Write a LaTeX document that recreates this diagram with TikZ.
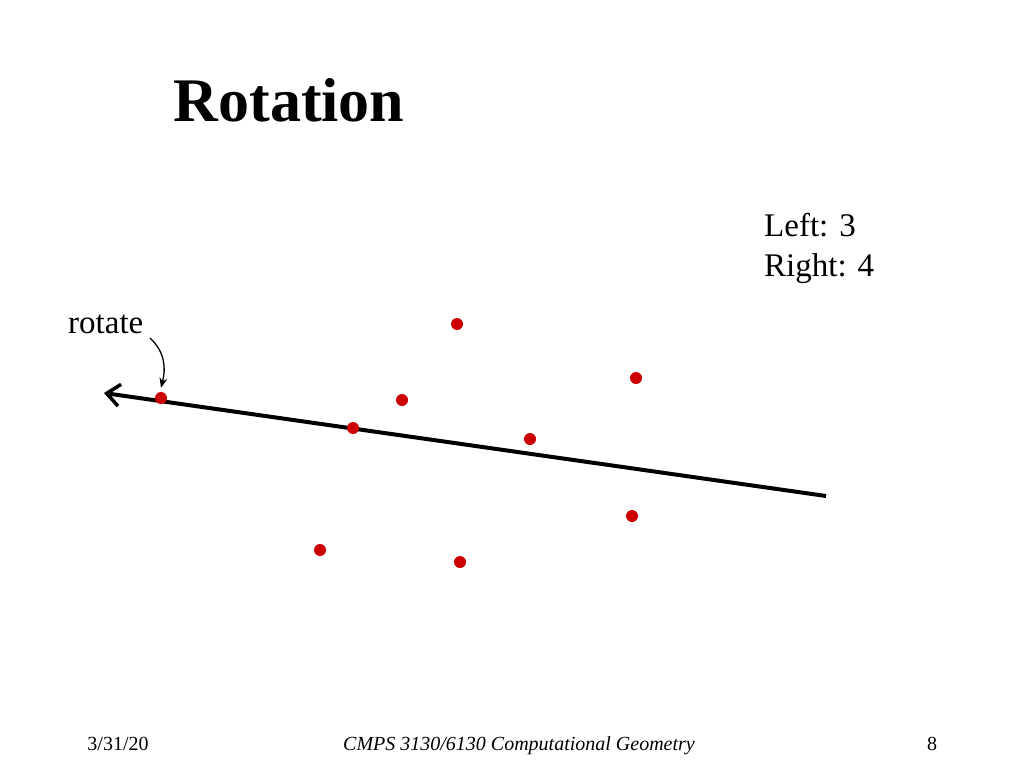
\documentclass[tikz,border=0pt]{standalone}
\usepackage{fontspec}
\setmainfont{Liberation Serif}
\usetikzlibrary{arrows.meta}
\begin{document}
\begin{tikzpicture}[x=1pt,y=-1pt,
  pt/.style={circle,fill=red!80!black,inner sep=0pt,minimum size=12pt},
  lbl/.style={inner sep=0pt,anchor=base west,font=\fontsize{33}{38}\selectfont},
  foot/.style={inner sep=0pt,anchor=base,font=\fontsize{20}{24}\selectfont}]
\useasboundingbox (0,0) rectangle (1024,768);
\coordinate (lend) at (826,496);
\coordinate (ltip) at (104,393);
\draw[line width=4pt,-{Straight Barb[length=13pt,width=22pt,line width=3.5pt]}] (lend) -- (ltip);
\node[inner sep=0pt,anchor=base,font=\fontsize{62}{70}\selectfont\bfseries] (title) at (289,121) {Rotation};
\node[lbl] (left) at (764,236) {Left: 3};
\node[lbl] (right) at (764,276) {Right: 4};
\node[lbl] (rot) at (68,333) {rotate};
\node[pt] (p1) at (457,324) {};
\node[pt] (p2) at (636,378) {};
\node[pt] (p3) at (402,400) {};
\node[pt] (p4) at (161,398) {};
\node[pt] (p5) at (353,428) {};
\node[pt] (p6) at (530,439) {};
\node[pt] (p7) at (632,516) {};
\node[pt] (p8) at (320,550) {};
\node[pt] (p9) at (460,562) {};
\coordinate (cs) at (150,338);
\draw[line width=1.3pt,-{Stealth[length=10pt,width=8pt]}] (cs) .. controls (165,352) and (166,368) .. ([yshift=4pt]p4.north);
\node[foot] (date) at (118,750) {3/31/20};
\node[foot,font=\fontsize{20}{24}\selectfont\itshape] (course) at (519,750) {CMPS 3130/6130 Computational Geometry};
\node[foot] (num) at (932,750) {8};
\end{tikzpicture}
\end{document}
